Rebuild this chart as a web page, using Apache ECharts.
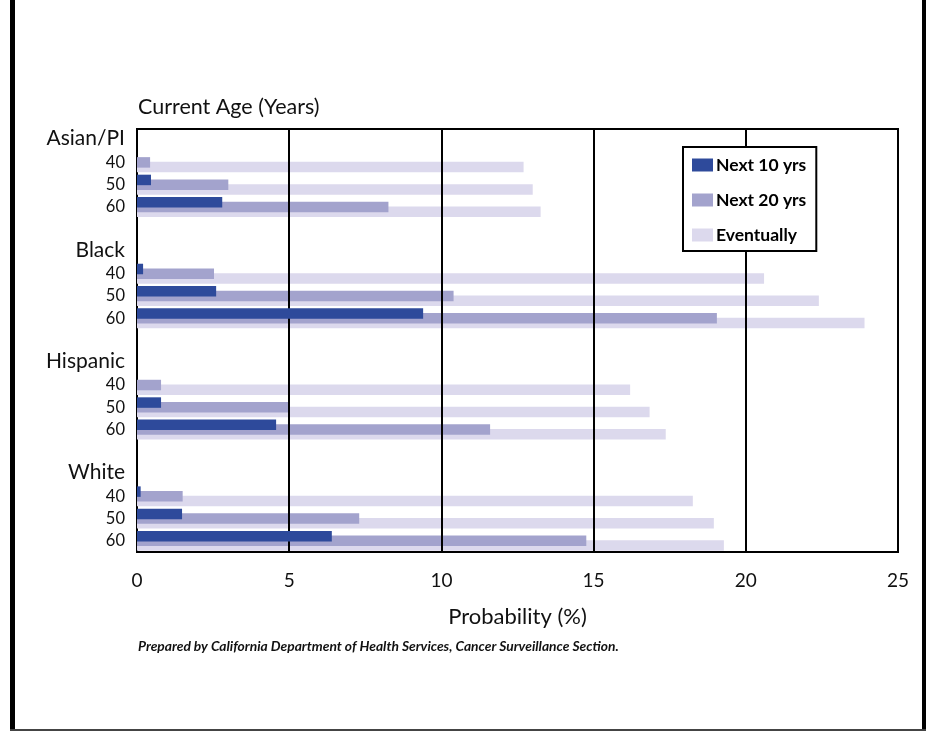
<!DOCTYPE html>
<html>
<head>
<meta charset="utf-8">
<script src="https://cdn.jsdelivr.net/npm/echarts@6/dist/echarts.min.js"></script>
<style>
html,body{margin:0;padding:0;background:#fff;}
#chart{width:926px;height:731px;}
</style>
</head>
<body>
<div id="chart"></div>
<script>
// ---- data ----
const groups = ['Asian/PI', 'Black', 'Hispanic', 'White'];
const ages = ['40', '50', '60'];
const seriesNames = ['Next 10 yrs', 'Next 20 yrs', 'Eventually'];
// values per group x age (Asian/PI 40,50,60, Black 40,50,60, ...)
const next10 = [0, 0.46, 2.8, 0.2, 2.6, 9.4, 0, 0.79, 4.57, 0.12, 1.48, 6.4];
const next20 = [0.43, 3.0, 8.26, 2.53, 10.4, 19.05, 0.79, 4.97, 11.6, 1.5, 7.3, 14.76];
const eventually = [12.7, 13.0, 13.26, 20.6, 22.4, 23.9, 16.2, 16.84, 17.37, 18.26, 18.95, 19.28];
const xTicks = [0, 5, 10, 15, 20, 25];
const gridLines = [5, 10, 15, 20];

// ---- build category slots: header, 40, 50, 60, gap ----
const slots = [];
const slotIndex = []; // index into data arrays or -1
groups.forEach((g, gi) => {
  slots.push(g); slotIndex.push(-1);
  ages.forEach((a, ai) => { slots.push(g + '|' + a); slotIndex.push(gi * 3 + ai); });
  if (gi < groups.length - 1) { slots.push('gap' + gi); slotIndex.push(-1); }
});
const toSlots = arr => slotIndex.map(i => i < 0 ? '-' : arr[i]);

const colors = ['#2e4a9b', '#a3a3cd', '#dcd9ed'];
const FONT = 'Lato';

const chart = echarts.init(document.getElementById('chart'));
const barW = 10.5;
const option = {
  animation: false,
  backgroundColor: '#fff',
  textStyle: { fontFamily: FONT },
  grid: { left: 137, top: 129, right: 28, bottom: 179, show: true, borderColor: '#000', borderWidth: 2, backgroundColor: 'transparent' },
  legend: {
    orient: 'vertical', left: 683, top: 147, z: 10,
    backgroundColor: '#fff', borderColor: '#000', borderWidth: 2,
    padding: [9, 10, 7, 9], itemGap: 17, itemWidth: 21, itemHeight: 13,
    icon: 'rect',
    textStyle: { fontFamily: FONT, fontWeight: 'bold', fontSize: 17.5, color: '#000', lineHeight: 13, padding: [0, 0, 0, -2] },
    data: seriesNames
  },
  xAxis: {
    type: 'value', min: 0, max: 25, interval: 5,
    axisLine: { show: false }, axisTick: { show: false },
    splitLine: { show: false },
    axisLabel: { fontFamily: FONT, fontSize: 19, color: '#111', margin: 19,
      formatter: v => xTicks.indexOf(v) >= 0 ? String(v) : '' },
    name: 'Probability (%)', nameLocation: 'middle', nameGap: 54,
    nameTextStyle: { fontFamily: FONT, fontSize: 22, color: '#111' }
  },
  yAxis: {
    type: 'category', inverse: true, data: slots,
    axisLine: { show: false }, axisTick: { show: false }, splitLine: { show: false },
    axisLabel: {
      margin: 12, interval: 0,
      formatter: v => {
        if (v.startsWith('gap')) return '';
        if (v.indexOf('|') >= 0) return '{a|' + v.split('|')[1] + '}';
        return '{h|' + v + '}';
      },
      rich: {
        a: { fontFamily: FONT, fontSize: 16.5, color: '#111' },
        h: { fontFamily: FONT, fontSize: 21, color: '#111', padding: [0, 0, 3, 0] }
      }
    }
  },
  series: [
    { name: seriesNames[0], type: 'bar', z: 5, data: toSlots(next10), barWidth: barW, barGap: '-55%',
      itemStyle: { color: colors[0] },
      markLine: { silent: true, symbol: 'none', label: { show: false },
        lineStyle: { color: '#000', width: 2, type: 'solid' },
        data: gridLines.map(v => ({ xAxis: v })) } },
    { name: seriesNames[1], type: 'bar', z: 4, data: toSlots(next20), barWidth: barW, barGap: '-55%',
      itemStyle: { color: colors[1] } },
    { name: seriesNames[2], type: 'bar', z: 3, data: toSlots(eventually), barWidth: barW, barGap: '-55%',
      itemStyle: { color: colors[2] } }
  ],
  graphic: [
    { type: 'text', left: 138, top: 96, z: 20,
      style: { text: 'Current Age (Years)', font: '21.5px ' + FONT, fill: '#111' } },
    { type: 'text', left: 138, top: 640, z: 20,
      style: { text: 'Prepared by California Department of Health Services, Cancer Surveillance Section.', font: 'italic bold 13.8px ' + FONT, fill: '#111' } },
    { type: 'rect', shape: { x: 10, y: 0, width: 5, height: 731 }, style: { fill: '#000' }, z: 20 },
    { type: 'rect', shape: { x: 922, y: 0, width: 4, height: 731 }, style: { fill: '#000' }, z: 20 },
    { type: 'rect', shape: { x: 10, y: 729, width: 916, height: 2 }, style: { fill: '#444' }, z: 20 }
  ]
};
chart.setOption(option);
</script>
</body>
</html>
